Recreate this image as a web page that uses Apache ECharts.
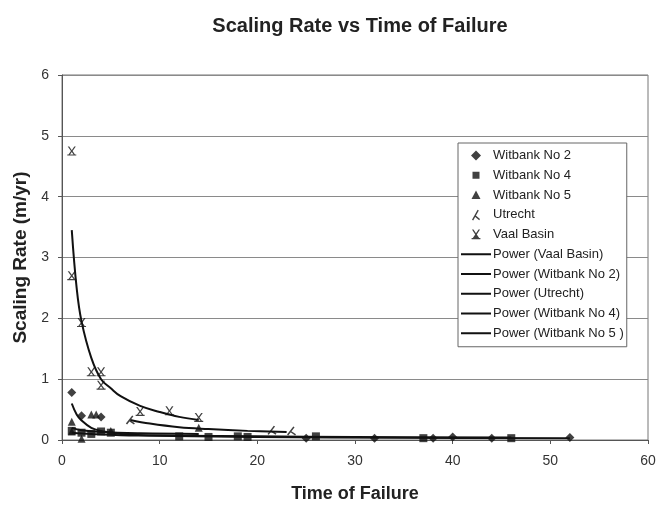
<!DOCTYPE html>
<html>
<head>
<meta charset="utf-8">
<script src="https://cdn.jsdelivr.net/npm/echarts@6/dist/echarts.min.js"></script>
<style>
  html, body { margin: 0; padding: 0; background: #fff; }
  #chart { width: 658px; height: 505px; }
</style>
</head>
<body>
<div id="chart"></div>
<script>
// Observed scaling rates [time of failure, rate (m/yr)] per site
const witbank2 = [[1,0.78],[2,0.4],[4,0.38],[25,0.03],[32,0.03],[38,0.03],[40,0.05],[44,0.03],[52,0.04]];
const witbank4 = [[1,0.15],[2,0.12],[3,0.1],[4,0.14],[5,0.12],[12,0.06],[15,0.05],[18,0.06],[19,0.05],[26,0.06],[37,0.03],[46,0.03]];
const witbank5 = [[1,0.3],[1,0.14],[2,0.02],[3,0.42],[3.5,0.42],[5,0.15],[14,0.2]];
const utrecht = [[7,0.33],[21.5,0.16],[23.5,0.15]];
const vaalBasin = [[1,4.75],[1,2.7],[2,1.93],[3,1.12],[4,1.12],[4,0.9],[8,0.47],[11,0.48],[14,0.37]];

// Power trend lines, points taken along each curve
const powerVaal = [[1,3.45],[1.5,2.5],[2,1.95],[3,1.35],[4,1.0],[5,0.85],[6,0.72],[8,0.56],[10,0.46],[12,0.38],[14,0.33]];
const powerW2 = [[1,0.6],[1.5,0.42],[2,0.32],[3,0.2],[4,0.15],[6,0.1],[10,0.07],[20,0.05],[35,0.035],[52,0.03]];
const powerUtrecht = [[7,0.33],[9,0.27],[12,0.21],[15,0.18],[19,0.15],[23,0.13]];
const powerW4 = [[1,0.12],[3,0.1],[6,0.08],[12,0.07],[20,0.06],[30,0.05],[46,0.04]];
const powerW5 = [[1,0.2],[2,0.16],[4,0.13],[8,0.11],[14,0.1]];

const xTicks = [0, 10, 20, 30, 40, 50, 60];
const yTicks = [0, 1, 2, 3, 4, 5, 6];

// Marker shapes (10x11 box)
const utrechtShape = 'M0,10 L7,0 L8.4,1 L1.4,11 Z M3.6,5 L10,9.6 L9,11 L2.8,6.4 Z';
const vaalShape = 'M0.5,0 L2.2,0 L5,4.4 L7.8,0 L9.5,0 L5.9,5.6 L8.6,9.6 L10,9.6 L10,11 L0,11 L0,9.6 L1.4,9.6 L4.1,5.6 Z M3,9.6 L7,9.6 L5,6.8 Z';

// Legend icons drawn in a 30x15 box: tiny corner anchors keep the box size
const anchors = 'M0,0 L0.02,0 L0,0.02 Z M30,15 L29.98,15 L30,14.98 Z ';
const icon = {
  diamond: 'path://' + anchors + 'M15,2.5 L20,7.5 L15,12.5 L10,7.5 Z',
  rect: 'path://' + anchors + 'M11.5,4 L18.5,4 L18.5,11 L11.5,11 Z',
  triangle: 'path://' + anchors + 'M15,3 L19.5,11.5 L10.5,11.5 Z',
  utrecht: 'path://' + anchors + 'M11,12.5 L16.6,2.5 L17.8,3.3 L12.2,13.3 Z M13.9,7.5 L19,11.8 L18.2,12.9 L13.1,8.7 Z',
  vaal: 'path://' + anchors + 'M11,2.5 L12.5,2.5 L15,6.3 L17.5,2.5 L19,2.5 L15.8,7.4 L18.2,11 L19.4,11 L19.4,12.3 L10.6,12.3 L10.6,11 L11.8,11 L14.2,7.4 Z',
  line: 'path://' + anchors + 'M0,6.4 L30,6.4 L30,8.6 L0,8.6 Z'
};

const chart = echarts.init(document.getElementById('chart'));

function scatter(name, data, symbol, size) {
  return {
    name, type: 'scatter', data, symbol, symbolSize: size,
    itemStyle: { color: '#111' }, z: 5
  };
}
function power(name, data) {
  return {
    name, type: 'line', data, smooth: 0.4, symbol: 'none', showSymbol: false,
    lineStyle: { color: '#111', width: 2 }, itemStyle: { color: '#111' }, z: 4
  };
}

chart.setOption({
  animation: false,
  backgroundColor: '#fff',
  textStyle: { fontFamily: 'Liberation Sans, Arial, sans-serif' },
  title: {
    text: 'Scaling Rate vs Time of Failure',
    left: 355, top: 11, textAlign: 'center',
    textStyle: { fontSize: 20, fontWeight: 'bold', color: '#222' }
  },
  grid: {
    left: 62, right: 10, top: 75, bottom: 65,
    outerBoundsMode: 'none',
    show: true, borderColor: '#777', borderWidth: 1
  },
  legend: {
    orient: 'vertical',
    left: 458, top: 143,
    padding: [5, 3, 6, 3],
    itemGap: 4.75,
    itemWidth: 30, itemHeight: 15,
    borderColor: '#666', borderWidth: 1,
    backgroundColor: '#fff',
    textStyle: { fontSize: 13, color: '#222', padding: [0, 0, 0, -3] },
    data: [
      { name: 'Witbank No 2', icon: icon.diamond },
      { name: 'Witbank No 4', icon: icon.rect },
      { name: 'Witbank No 5', icon: icon.triangle },
      { name: 'Utrecht', icon: icon.utrecht },
      { name: 'Vaal Basin', icon: icon.vaal },
      { name: 'Power (Vaal Basin)', icon: icon.line },
      { name: 'Power (Witbank No 2)', icon: icon.line },
      { name: 'Power (Utrecht)', icon: icon.line },
      { name: 'Power (Witbank No 4)', icon: icon.line },
      { name: 'Power (Witbank No 5 )', icon: icon.line }
    ]
  },
  xAxis: {
    type: 'value', min: xTicks[0], max: xTicks[xTicks.length - 1], interval: 10,
    name: 'Time of Failure', nameLocation: 'middle', nameGap: 45,
    nameTextStyle: { fontSize: 18, fontWeight: 'bold', color: '#222' },
    axisLine: { show: true, lineStyle: { color: '#555' } },
    axisTick: { show: true, length: 4, lineStyle: { color: '#555' } },
    axisLabel: { fontSize: 14, color: '#333', margin: 14 },
    splitLine: { show: false }
  },
  yAxis: {
    type: 'value', min: yTicks[0], max: yTicks[yTicks.length - 1], interval: 1,
    name: 'Scaling Rate (m/yr)', nameLocation: 'middle', nameGap: 32,
    nameTextStyle: { fontSize: 19, fontWeight: 'bold', color: '#222' },
    axisLine: { show: true, lineStyle: { color: '#555' } },
    axisTick: { show: true, length: 4, lineStyle: { color: '#555' } },
    axisLabel: { fontSize: 14, color: '#333', margin: 13 },
    splitLine: { show: true, lineStyle: { color: '#8a8a8a', width: 1 } }
  },
  series: [
    scatter('Witbank No 2', witbank2, 'diamond', 9),
    scatter('Witbank No 4', witbank4, 'rect', 8),
    scatter('Witbank No 5', witbank5, 'triangle', 8),
    scatter('Utrecht', utrecht, 'path://' + utrechtShape, 9),
    scatter('Vaal Basin', vaalBasin, 'path://' + vaalShape, 9),
    power('Power (Vaal Basin)', powerVaal),
    power('Power (Witbank No 2)', powerW2),
    power('Power (Utrecht)', powerUtrecht),
    power('Power (Witbank No 4)', powerW4),
    power('Power (Witbank No 5 )', powerW5)
  ]
});
</script>
</body>
</html>
